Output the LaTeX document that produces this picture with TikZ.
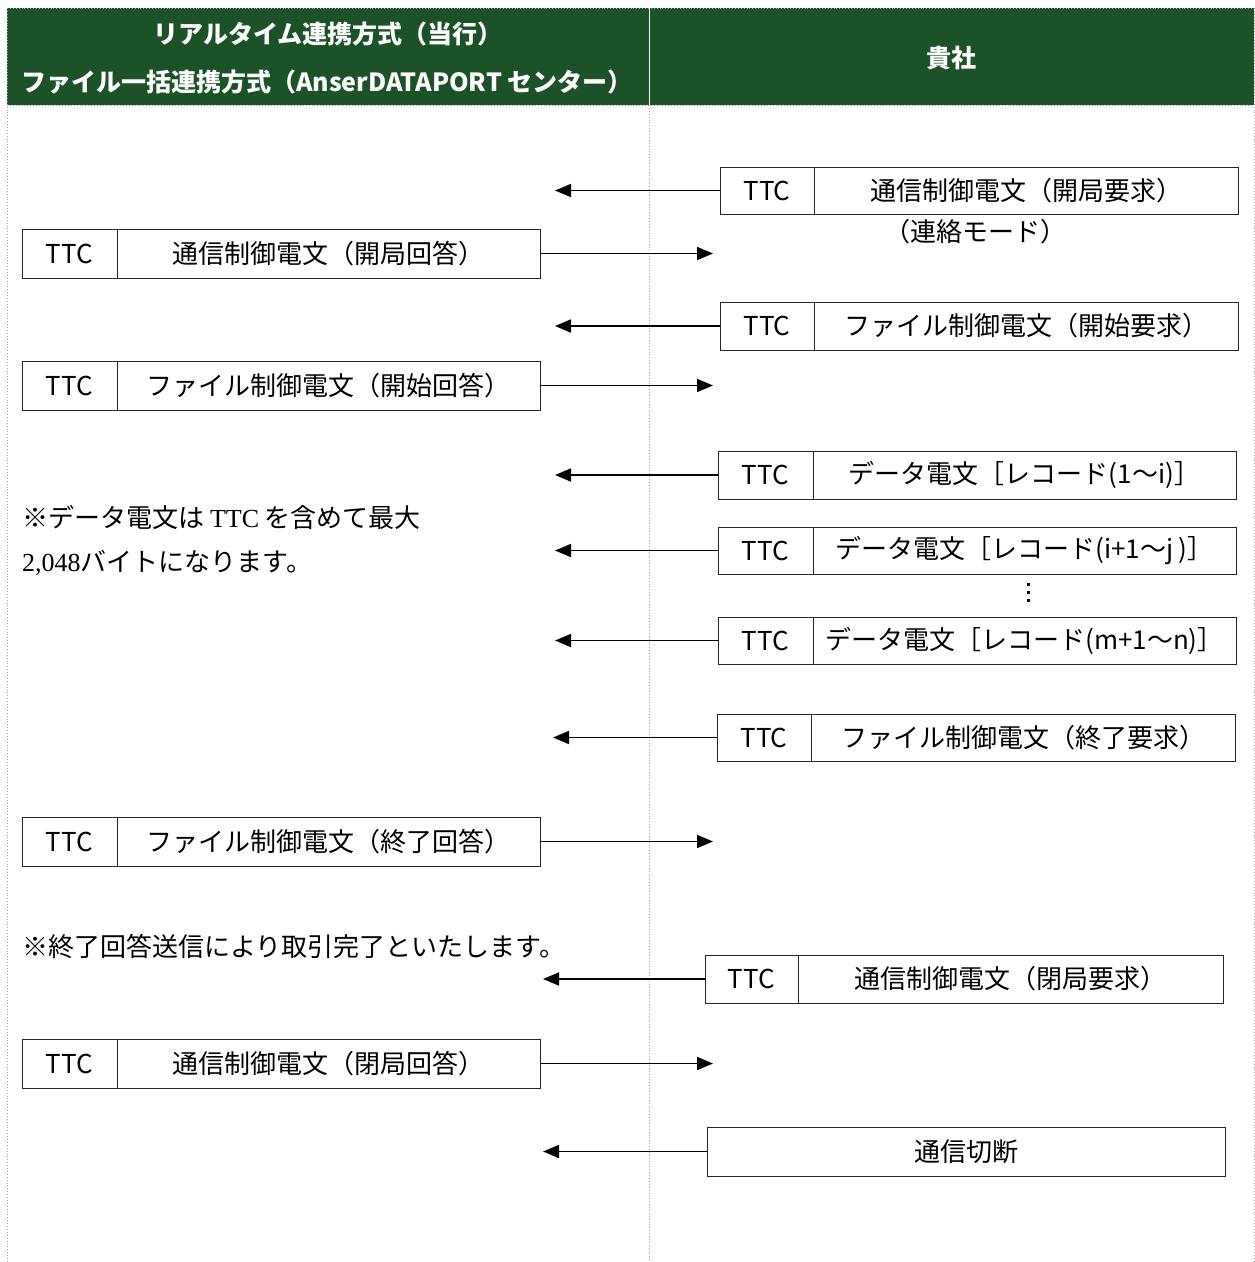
\documentclass[tikz,border=0pt]{standalone}
\usepackage{fontspec}
\setmainfont{Noto Sans CJK JP}
\newfontfamily\serifl{Liberation Serif}
\usetikzlibrary{arrows.meta}
\definecolor{hdrgreen}{HTML}{1B5227}
\definecolor{gridgray}{HTML}{A8A8A8}
\tikzset{
  cellbox/.style={draw=black!85, line width=0.9pt, inner sep=0pt, outer sep=0pt,
    font=\fontsize{26}{30}\selectfont},
  arr/.style={line width=1.7pt, -{Triangle[length=16pt,width=13pt]}},
  grid/.style={draw=gridgray, line width=0.9pt, dotted},
  hdrtext/.style={text=white, font=\fontsize{25}{30}\selectfont\bfseries, inner sep=0pt},
  note/.style={anchor=west, inner sep=0pt, font=\fontsize{26}{30}\selectfont},
}
\newcommand\msg[7]{%
  \node[cellbox, minimum width=#4pt, minimum height=#6pt, anchor=north west] (#1a) at (#2,#3) {TTC};
  \node[cellbox, minimum width=#5pt, minimum height=#6pt, anchor=west] (#1b) at (#1a.east) {#7};
}
\begin{document}
\begin{tikzpicture}[x=1pt, y=-1pt]
\useasboundingbox (0,0) rectangle (1255,1262);
% header
\fill[hdrgreen] (7,8) rectangle (1254,105);
\draw[white, line width=0.9pt] (649,8) -- (649,105);
\draw[grid] (7,8) -- (1254,8);
\draw[grid] (7,105) -- (1254,105);
\draw[grid] (7,8) -- (7,1262);
\draw[grid] (649,105) -- (649,1262);
\draw[grid] (1254,8) -- (1254,1262);
\node[hdrtext] (h1) at (328,34) {リアルタイム連携方式（当行）};
\node[hdrtext] (h2) at (327,82) {ファイル一括連携方式（AnserDATAPORT センター）};
\node[hdrtext] (h3) at (951,58) {貴社};
% arrow end coordinates
\coordinate (xL) at (555,0);
\coordinate (xL2) at (553,0);
\coordinate (xL3) at (543,0);
\coordinate (xR) at (713,0);
% right-side messages
\msg{r1}{720}{167}{94}{424}{47}{通信制御電文（開局要求）}
\node[font=\fontsize{26}{30}\selectfont, inner sep=0pt] (mode) at (975,232) {（連絡モード）};
\msg{r2}{720}{302}{94}{424}{48}{ファイル制御電文（開始要求）}
\msg{r3}{718}{451}{95}{423}{48}{データ電文［レコード(1〜i)］}
\msg{r4}{718}{527}{95}{423}{47}{データ電文［レコード(i+1〜j )］}
\msg{r5}{718}{617}{95}{423}{47}{データ電文［レコード(m+1〜n)］}
\msg{r6}{717}{714}{94}{424}{47}{ファイル制御電文（終了要求）}
\msg{r7}{705}{955}{93}{425}{48}{通信制御電文（閉局要求）}
\node[cellbox, minimum width=518pt, minimum height=49pt, anchor=north west] (r8) at (707,1127) {通信切断};
% left-side messages
\msg{l1}{22}{229}{95}{423}{49}{通信制御電文（開局回答）}
\msg{l2}{22}{361}{95}{423}{49}{ファイル制御電文（開始回答）}
\msg{l3}{22}{817}{95}{423}{49}{ファイル制御電文（終了回答）}
\msg{l4}{22}{1039}{95}{423}{49}{通信制御電文（閉局回答）}
% vertical ellipsis
\foreach \yy in {584,592,600} \fill[black] (1026.5,\yy-1.5) rectangle (1029.5,\yy+1.5);
% arrows
\draw[arr] (r1a.west) -- (r1a.west -| xL);
\draw[arr] (r2a.west) -- (r2a.west -| xL);
\draw[arr] (r3a.west) -- (r3a.west -| xL);
\draw[arr] (r4a.west) -- (r4a.west -| xL);
\draw[arr] (r5a.west) -- (r5a.west -| xL);
\draw[arr] (r6a.west) -- (r6a.west -| xL2);
\draw[arr] (r7a.west) -- (r7a.west -| xL3);
\draw[arr] (r8.west) -- (r8.west -| xL3);
\draw[arr] (l1b.east) -- (l1b.east -| xR);
\draw[arr] (l2b.east) -- (l2b.east -| xR);
\draw[arr] (l3b.east) -- (l3b.east -| xR);
\draw[arr] (l4b.east) -- (l4b.east -| xR);
% notes
\node[note] (n1) at (22,517) {※データ電文は {\serifl TTC} を含めて最大};
\node[note] (n2) at (22,563) {{\serifl 2,048}バイトになります。};
\node[note] (n3) at (22,946) {※終了回答送信により取引完了といたします。};
\end{tikzpicture}
\end{document}
